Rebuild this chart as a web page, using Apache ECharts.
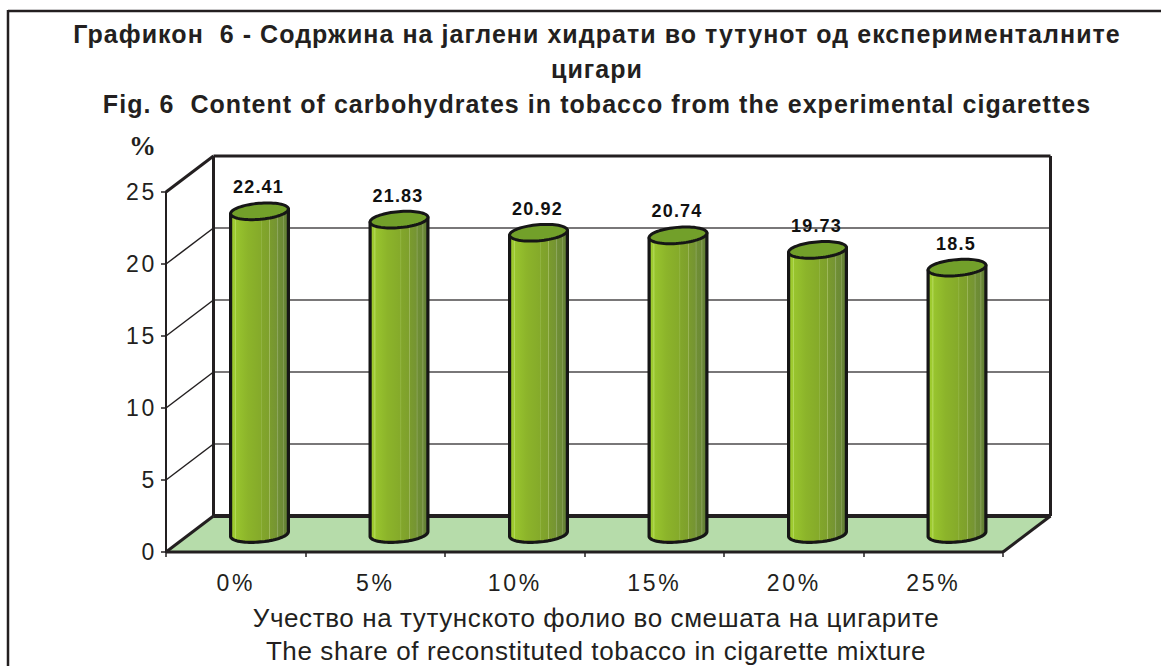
<!DOCTYPE html>
<html>
<head>
<meta charset="utf-8">
<style>
html,body{margin:0;padding:0;background:#fff}
#chart{width:1161px;height:666px}
/* the reference text is letter-spaced, by different amounts per text role */
#chart text[style*="25px"]{letter-spacing:1.05px}
#chart text[style*="26px"]{letter-spacing:.6px}
#chart text[style*="23px"]{letter-spacing:2.7px}
#chart text[style*="18px"]{letter-spacing:1.2px}
</style>
<script src="https://cdn.jsdelivr.net/npm/echarts@6/dist/echarts.min.js"></script>
</head>
<body>
<div id="chart"></div>
<script>
var categories = ['0%', '5%', '10%', '15%', '20%', '25%'];
var carbohydrates = [22.41, 21.83, 20.92, 20.74, 19.73, 18.5];
var valueTicks = [0, 5, 10, 15, 20, 25];
var titleLines = [
  'Графикон  6 - Содржина на јаглени хидрати во тутунот од експерименталните',
  'цигари',
  'Fig. 6  Content of carbohydrates in tobacco from the experimental cigarettes'
];
var xAxisLines = [
  'Учество на тутунското фолио во смешата на цигарите',
  'The share of reconstituted tobacco in cigarette mixture'
];

var INK = '#231f20', DEPTH_X = 47.5, DEPTH_Y = -36;
var RX = 29, RY = 8, TILT = 5 * Math.PI / 180;
var cosT = Math.cos(TILT), sinT = Math.sin(TILT);

var barFill = {
  type: 'linear', x: 0, y: 0, x2: 1, y2: 0,
  colorStops: [
    {offset: 0, color: '#9cc92e'}, {offset: 0.07, color: '#9ecb30'},
    {offset: 0.08, color: '#b8dc62'}, {offset: 0.1, color: '#98c42e'},
    {offset: 0.3, color: '#8cb42a'}, {offset: 0.52, color: '#85aa2a'},
    {offset: 0.53, color: '#96b84a'}, {offset: 0.545, color: '#82a62b'},
    {offset: 0.67, color: '#7ea02c'}, {offset: 0.675, color: '#b2c878'},
    {offset: 0.69, color: '#7a9b2e'}, {offset: 0.8, color: '#759433'},
    {offset: 0.81, color: '#8fa860'}, {offset: 0.83, color: '#6f8e34'},
    {offset: 0.9, color: '#6c8a36'}, {offset: 0.91, color: '#8aa25c'},
    {offset: 0.93, color: '#688636'}, {offset: 1, color: '#5f7c33'}
  ]
};

function renderWall(params, api) {
  var v = api.value(0);
  var half = api.size([1, 0])[0] / 2;
  var left = api.coord([0, v]);
  var right = api.coord([categories.length - 1, v]);
  var x0 = left[0] - half, x1 = right[0] + half, y = left[1];
  var top = v === valueTicks[valueTicks.length - 1];
  var bottom = v === valueTicks[0];
  var bx0 = x0 + DEPTH_X, bx1 = x1 + DEPTH_X, by = y + DEPTH_Y;
  var kids = [];
  if (bottom) {
    kids.push({type: 'polygon', shape: {points: [[x0, y], [bx0, by], [bx1, by], [x1, y]]},
      style: {fill: '#b6dcaa', stroke: null}});
    kids.push({type: 'line', shape: {x1: x1, y1: y, x2: bx1, y2: by}, style: {stroke: INK, lineWidth: 3}});
    kids.push({type: 'line', shape: {x1: x0, y1: y, x2: x1, y2: y}, style: {stroke: INK, lineWidth: 3}});
  }
  if (top) {
    var base = api.coord([0, valueTicks[0]])[1] + DEPTH_Y;
    kids.push({type: 'line', shape: {x1: bx0, y1: by, x2: bx0, y2: base}, style: {stroke: INK, lineWidth: 3}});
    kids.push({type: 'line', shape: {x1: bx1, y1: by, x2: bx1, y2: base}, style: {stroke: INK, lineWidth: 3}});
  }
  kids.push({type: 'line', shape: {x1: bx0, y1: by, x2: bx1, y2: by},
    style: {stroke: (top || bottom) ? INK : '#4d4a4b', lineWidth: bottom ? 4 : top ? 3 : 1.5}});
  kids.push({type: 'line', shape: {x1: x0, y1: y, x2: bx0, y2: by},
    style: {stroke: INK, lineWidth: (top || bottom) ? 3 : 1.5}});
  return {type: 'group', children: kids};
}

function ellipsePoint(cx, cy, t) {
  var ex = RX * Math.cos(t), ey = RY * Math.sin(t);
  return [cx + ex * cosT + ey * sinT, cy - ex * sinT + ey * cosT];
}

function renderBar(params, api) {
  var idx = api.value(0), val = api.value(1);
  var tp = api.coord([idx, val]), bs = api.coord([idx, 0]);
  var cx = tp[0] + DEPTH_X / 2, topY = tp[1] + DEPTH_Y / 2, baseY = bs[1] + DEPTH_Y / 2;
  var pts = [ellipsePoint(cx, topY, Math.PI)];
  for (var i = 0; i <= 40; i++) {
    pts.push(ellipsePoint(cx, baseY, Math.PI - Math.PI * i / 40));
  }
  pts.push(ellipsePoint(cx, topY, 0));
  var ring = [];
  for (var j = 0; j < 72; j++) ring.push(ellipsePoint(cx, topY, Math.PI * 2 * j / 72));
  return {
    type: 'group',
    children: [
      {type: 'polygon', shape: {points: pts}, style: {fill: barFill, stroke: '#161616', lineWidth: 3.2, lineJoin: 'round'}},
      {type: 'polygon', shape: {points: ring}, style: {fill: '#72a02a', stroke: '#161616', lineWidth: 3}},
      {type: 'text', style: {
        text: String(val), x: cx - 1, y: topY - 24,
        align: 'center', verticalAlign: 'middle',
        font: 'bold 18px "Liberation Sans", Arial, sans-serif', fill: '#111'
      }}
    ]
  };
}

var chart = echarts.init(document.getElementById('chart'), null, {renderer: 'svg'});
chart.setOption({
  animation: false,
  backgroundColor: '#fff',
  title: {
    text: titleLines.join('\n'),
    left: 592, top: 11, textAlign: 'center',
    textStyle: {fontFamily: '"Liberation Sans", Arial, sans-serif', fontSize: 25, fontWeight: 'bold', color: INK, lineHeight: 35}
  },
  graphic: [
    {type: 'line', shape: {x1: 8, y1: 11, x2: 1161, y2: 11}, style: {stroke: INK, lineWidth: 2.5}},
    {type: 'line', shape: {x1: 8, y1: 10, x2: 8, y2: 666}, style: {stroke: INK, lineWidth: 2.5}}
  ],
  grid: {left: 166, top: 192, width: 837, height: 360, containLabel: false, outerBoundsMode: 'none'},
  xAxis: {
    type: 'category', data: categories,
    axisLine: {show: true, lineStyle: {color: INK, width: 2}},
    axisTick: {show: true, length: 5, lineStyle: {color: INK, width: 1.5}},
    axisLabel: {fontFamily: '"Liberation Sans", Arial, sans-serif', fontSize: 23, color: INK, margin: 19},
    name: xAxisLines.join('\n'), nameLocation: 'middle', nameGap: 49,
    nameTextStyle: {fontFamily: '"Liberation Sans", Arial, sans-serif', fontSize: 26, color: INK, lineHeight: 33, verticalAlign: 'top', padding: [0, 0, 0, 23]}
  },
  yAxis: {
    type: 'value', min: 0, max: 25, interval: 5,
    splitLine: {show: false},
    axisLine: {show: true, lineStyle: {color: INK, width: 2}},
    axisTick: {show: true, length: 5, lineStyle: {color: INK, width: 1.5}},
    axisLabel: {fontFamily: '"Liberation Sans", Arial, sans-serif', fontSize: 23, color: INK, margin: 9},
    name: '%', nameLocation: 'end', nameGap: 46,
    nameTextStyle: {fontFamily: '"Liberation Serif", serif', fontSize: 27, fontWeight: 'bold', color: INK, align: 'right', verticalAlign: 'middle', padding: [0, 10, 0, 0]}
  },
  series: [
    {type: 'custom', z: 1, silent: true, coordinateSystem: 'cartesian2d',
     data: valueTicks.map(function (v) { return [v]; }),
     encode: {y: 0}, renderItem: renderWall},
    {type: 'custom', z: 3, silent: true, coordinateSystem: 'cartesian2d',
     data: carbohydrates.map(function (v, i) { return [i, v]; }),
     encode: {x: 0, y: 1}, renderItem: renderBar}
  ]
});
</script>
</body>
</html>
